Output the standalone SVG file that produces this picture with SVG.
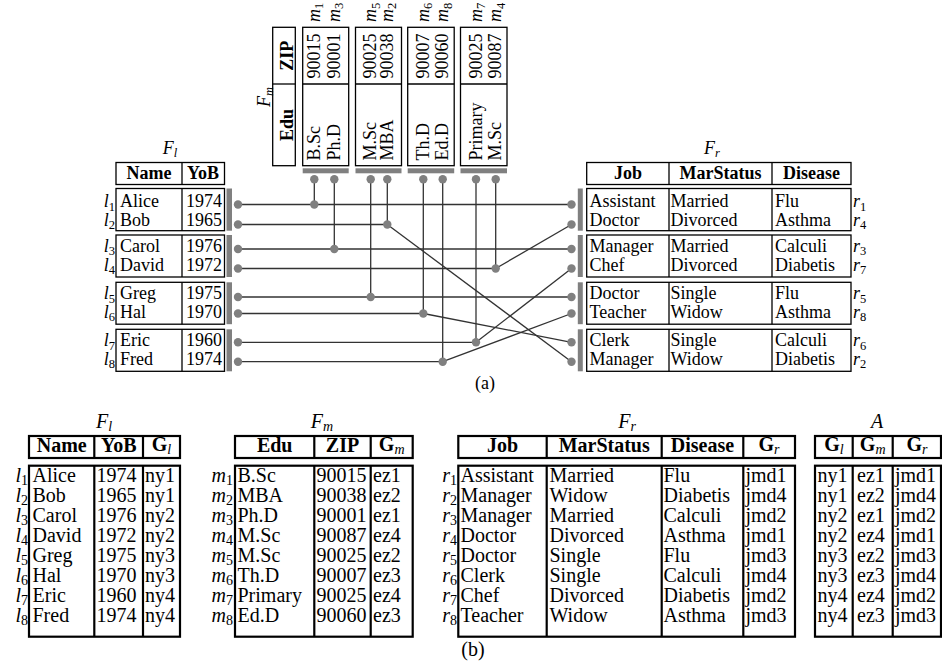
<svg xmlns="http://www.w3.org/2000/svg" width="942" height="665" viewBox="0 0 942 665">
<style>
text{font-family:"Liberation Serif","DejaVu Serif",serif;fill:#000}
.a{font-size:18px}
.b{font-size:20px}
.h{font-weight:bold}
.i{font-style:italic}
.sa{font-size:12.5px}
.sb{font-size:14px}
.m{text-anchor:middle}
.e{text-anchor:end}
.box{fill:none;stroke:#000;stroke-width:1.3}
.tb{fill:none;stroke:#000;stroke-width:2.2}
.bar{fill:#808080}
.dot{fill:#808080}
.ln{stroke:#333;stroke-width:1.3;fill:none}
</style>
<rect width="942" height="665" fill="#fff"/>

<!-- ============ (a) ============ -->
<g id="Fl_a" class="a">
  <text class="i m" x="170" y="154">F<tspan class="sa" dy="3">l</tspan></text>
  <rect class="box" x="116" y="162.5" width="108.5" height="22"/>
  <line class="box" x1="182" y1="162.5" x2="182" y2="184.5"/>
  <text class="h m" x="149" y="179">Name</text>
  <text class="h m" x="203" y="179">YoB</text>
  <g id="Fl_a_g1">
    <rect class="box" x="116" y="188.5" width="108.5" height="42.2"/>
    <line class="box" x1="182" y1="188.5" x2="182" y2="230.7"/>
    <rect class="bar" x="226.5" y="188.5" width="5.5" height="42.2"/>
  </g>
  <g id="Fl_a_g2">
    <rect class="box" x="116" y="235" width="108.5" height="42"/>
    <line class="box" x1="182" y1="235" x2="182" y2="277"/>
    <rect class="bar" x="226.5" y="235" width="5.5" height="42"/>
  </g>
  <g id="Fl_a_g3">
    <rect class="box" x="116" y="282.3" width="108.5" height="41.9"/>
    <line class="box" x1="182" y1="282.3" x2="182" y2="324.2"/>
    <rect class="bar" x="226.5" y="282.3" width="5.5" height="41.9"/>
  </g>
  <g id="Fl_a_g4">
    <rect class="box" x="116" y="329.3" width="108.5" height="42"/>
    <line class="box" x1="182" y1="329.3" x2="182" y2="371.3"/>
    <rect class="bar" x="226.5" y="329.3" width="5.5" height="42"/>
  </g>
  <text class="e" x="115" y="207"><tspan class="i">l</tspan><tspan class="sa" dy="3.5">1</tspan></text>
  <text class="e" x="115" y="225.5"><tspan class="i">l</tspan><tspan class="sa" dy="3.5">2</tspan></text>
  <text class="e" x="115" y="251.5"><tspan class="i">l</tspan><tspan class="sa" dy="3.5">3</tspan></text>
  <text class="e" x="115" y="270.5"><tspan class="i">l</tspan><tspan class="sa" dy="3.5">4</tspan></text>
  <text class="e" x="115" y="299"><tspan class="i">l</tspan><tspan class="sa" dy="3.5">5</tspan></text>
  <text class="e" x="115" y="317.5"><tspan class="i">l</tspan><tspan class="sa" dy="3.5">6</tspan></text>
  <text class="e" x="115" y="346"><tspan class="i">l</tspan><tspan class="sa" dy="3.5">7</tspan></text>
  <text class="e" x="115" y="364.5"><tspan class="i">l</tspan><tspan class="sa" dy="3.5">8</tspan></text>
  <text x="120" y="207">Alice</text><text x="186" y="207">1974</text>
  <text x="120" y="225.5">Bob</text><text x="186" y="225.5">1965</text>
  <text x="120" y="251.5">Carol</text><text x="186" y="251.5">1976</text>
  <text x="120" y="270.5">David</text><text x="186" y="270.5">1972</text>
  <text x="120" y="299">Greg</text><text x="186" y="299">1975</text>
  <text x="120" y="317.5">Hal</text><text x="186" y="317.5">1970</text>
  <text x="120" y="346">Eric</text><text x="186" y="346">1960</text>
  <text x="120" y="364.5">Fred</text><text x="186" y="364.5">1974</text>
</g>

<g id="Fm_a" class="a">
  <text class="i m" transform="translate(270,97) rotate(-90)">F<tspan class="sa" dy="3">m</tspan></text>
  <rect class="box" x="272.7" y="27.3" width="22.6" height="138.4"/>
  <line class="box" x1="272.7" y1="84" x2="295.3" y2="84"/>
  <text class="h m" transform="translate(292.5,55.7) rotate(-90)">ZIP</text>
  <text class="h m" transform="translate(292.5,125) rotate(-90)">Edu</text>
  <g id="Fm_a_g1">
    <rect class="box" x="302.7" y="27.3" width="46" height="138.4"/>
    <line class="box" x1="302.7" y1="84" x2="348.7" y2="84"/>
    <rect class="bar" x="302.7" y="168.3" width="46" height="5"/>
    <text transform="translate(319.8,78.5) rotate(-90)">90015</text>
    <text transform="translate(339.8,78.5) rotate(-90)">90001</text>
    <text transform="translate(319.8,160.5) rotate(-90)">B.Sc</text>
    <text transform="translate(339.8,160.5) rotate(-90)">Ph.D</text>
    <text transform="translate(319.8,22) rotate(-90)"><tspan class="i">m</tspan><tspan class="sa" dy="3.5">1</tspan></text>
    <text transform="translate(339.8,22) rotate(-90)"><tspan class="i">m</tspan><tspan class="sa" dy="3.5">3</tspan></text>
  </g>
  <g id="Fm_a_g2">
    <rect class="box" x="355.5" y="27.3" width="46" height="138.4"/>
    <line class="box" x1="355.5" y1="84" x2="401.5" y2="84"/>
    <rect class="bar" x="355.5" y="168.3" width="46" height="5"/>
    <text transform="translate(376.2,78.5) rotate(-90)">90025</text>
    <text transform="translate(392.8,78.5) rotate(-90)">90038</text>
    <text transform="translate(376.2,160.5) rotate(-90)">M.Sc</text>
    <text transform="translate(392.8,160.5) rotate(-90)">MBA</text>
    <text transform="translate(376.2,22) rotate(-90)"><tspan class="i">m</tspan><tspan class="sa" dy="3.5">5</tspan></text>
    <text transform="translate(392.8,22) rotate(-90)"><tspan class="i">m</tspan><tspan class="sa" dy="3.5">2</tspan></text>
  </g>
  <g id="Fm_a_g3">
    <rect class="box" x="407.7" y="27.3" width="46.5" height="138.4"/>
    <line class="box" x1="407.7" y1="84" x2="454.2" y2="84"/>
    <rect class="bar" x="407.7" y="168.3" width="46.5" height="5"/>
    <text transform="translate(428.8,78.5) rotate(-90)">90007</text>
    <text transform="translate(448.2,78.5) rotate(-90)">90060</text>
    <text transform="translate(428.8,160.5) rotate(-90)">Th.D</text>
    <text transform="translate(448.2,160.5) rotate(-90)">Ed.D</text>
    <text transform="translate(428.8,22) rotate(-90)"><tspan class="i">m</tspan><tspan class="sa" dy="3.5">6</tspan></text>
    <text transform="translate(448.2,22) rotate(-90)"><tspan class="i">m</tspan><tspan class="sa" dy="3.5">8</tspan></text>
  </g>
  <g id="Fm_a_g4">
    <rect class="box" x="460.5" y="27.3" width="46.5" height="138.4"/>
    <line class="box" x1="460.5" y1="84" x2="507" y2="84"/>
    <rect class="bar" x="460.5" y="168.3" width="46.5" height="5"/>
    <text transform="translate(481.5,78.5) rotate(-90)">90025</text>
    <text transform="translate(501.2,78.5) rotate(-90)">90087</text>
    <text transform="translate(481.5,160.5) rotate(-90)">Primary</text>
    <text transform="translate(501.2,160.5) rotate(-90)">M.Sc</text>
    <text transform="translate(481.5,22) rotate(-90)"><tspan class="i">m</tspan><tspan class="sa" dy="3.5">7</tspan></text>
    <text transform="translate(501.2,22) rotate(-90)"><tspan class="i">m</tspan><tspan class="sa" dy="3.5">4</tspan></text>
  </g>
</g>

<g id="Fr_a" class="a">
  <text class="i m" x="712" y="154">F<tspan class="sa" dy="3">r</tspan></text>
  <rect class="box" x="586.7" y="162.5" width="264.3" height="22"/>
  <line class="box" x1="669" y1="162.5" x2="669" y2="184.5"/>
  <line class="box" x1="772" y1="162.5" x2="772" y2="184.5"/>
  <text class="h m" x="628" y="179">Job</text>
  <text class="h m" x="720.5" y="179">MarStatus</text>
  <text class="h m" x="811.5" y="179">Disease</text>
  <g id="Fr_a_g1">
    <rect class="box" x="586.7" y="188.5" width="264.3" height="42.2"/>
    <line class="box" x1="669" y1="188.5" x2="669" y2="230.7"/>
    <line class="box" x1="772" y1="188.5" x2="772" y2="230.7"/>
    <rect class="bar" x="577.8" y="188.5" width="5" height="42.2"/>
  </g>
  <g id="Fr_a_g2">
    <rect class="box" x="586.7" y="235" width="264.3" height="42"/>
    <line class="box" x1="669" y1="235" x2="669" y2="277"/>
    <line class="box" x1="772" y1="235" x2="772" y2="277"/>
    <rect class="bar" x="577.8" y="235" width="5" height="42"/>
  </g>
  <g id="Fr_a_g3">
    <rect class="box" x="586.7" y="282.3" width="264.3" height="41.9"/>
    <line class="box" x1="669" y1="282.3" x2="669" y2="324.2"/>
    <line class="box" x1="772" y1="282.3" x2="772" y2="324.2"/>
    <rect class="bar" x="577.8" y="282.3" width="5" height="41.9"/>
  </g>
  <g id="Fr_a_g4">
    <rect class="box" x="586.7" y="329.3" width="264.3" height="42"/>
    <line class="box" x1="669" y1="329.3" x2="669" y2="371.3"/>
    <line class="box" x1="772" y1="329.3" x2="772" y2="371.3"/>
    <rect class="bar" x="577.8" y="329.3" width="5" height="42"/>
  </g>
  <text x="589.5" y="207">Assistant</text><text x="670.5" y="207">Married</text><text x="775" y="207">Flu</text>
  <text x="589.5" y="225.5">Doctor</text><text x="670.5" y="225.5">Divorced</text><text x="775" y="225.5">Asthma</text>
  <text x="589.5" y="251.5">Manager</text><text x="670.5" y="251.5">Married</text><text x="775" y="251.5">Calculi</text>
  <text x="589.5" y="270.5">Chef</text><text x="670.5" y="270.5">Divorced</text><text x="775" y="270.5">Diabetis</text>
  <text x="589.5" y="299">Doctor</text><text x="670.5" y="299">Single</text><text x="775" y="299">Flu</text>
  <text x="589.5" y="317.5">Teacher</text><text x="670.5" y="317.5">Widow</text><text x="775" y="317.5">Asthma</text>
  <text x="589.5" y="346">Clerk</text><text x="670.5" y="346">Single</text><text x="775" y="346">Calculi</text>
  <text x="589.5" y="364.5">Manager</text><text x="670.5" y="364.5">Widow</text><text x="775" y="364.5">Diabetis</text>
  <text x="853" y="207"><tspan class="i">r</tspan><tspan class="sa" dy="3.5">1</tspan></text>
  <text x="853" y="225.5"><tspan class="i">r</tspan><tspan class="sa" dy="3.5">4</tspan></text>
  <text x="853" y="251.5"><tspan class="i">r</tspan><tspan class="sa" dy="3.5">3</tspan></text>
  <text x="853" y="270.5"><tspan class="i">r</tspan><tspan class="sa" dy="3.5">7</tspan></text>
  <text x="853" y="299"><tspan class="i">r</tspan><tspan class="sa" dy="3.5">5</tspan></text>
  <text x="853" y="317.5"><tspan class="i">r</tspan><tspan class="sa" dy="3.5">8</tspan></text>
  <text x="853" y="346"><tspan class="i">r</tspan><tspan class="sa" dy="3.5">6</tspan></text>
  <text x="853" y="364.5"><tspan class="i">r</tspan><tspan class="sa" dy="3.5">2</tspan></text>
</g>

<g id="connectors">
  <line class="ln" x1="238" y1="204.5" x2="571.5" y2="204.5"/>
  <line class="ln" x1="238" y1="224.5" x2="387.3" y2="224.5"/>
  <line class="ln" x1="238" y1="249" x2="571.5" y2="249"/>
  <line class="ln" x1="238" y1="268.5" x2="495.7" y2="268.5"/>
  <line class="ln" x1="238" y1="297" x2="571.5" y2="297"/>
  <line class="ln" x1="238" y1="313.5" x2="423.3" y2="313.5"/>
  <line class="ln" x1="238" y1="342.3" x2="476" y2="342.3"/>
  <line class="ln" x1="238" y1="361.7" x2="442.7" y2="361.7"/>
  <line class="ln" x1="314.3" y1="179.3" x2="314.3" y2="204.5"/>
  <line class="ln" x1="334.3" y1="179.3" x2="334.3" y2="249"/>
  <line class="ln" x1="370.7" y1="179.3" x2="370.7" y2="297"/>
  <line class="ln" x1="387.3" y1="179.3" x2="387.3" y2="224.5"/>
  <line class="ln" x1="423.3" y1="179.3" x2="423.3" y2="313.5"/>
  <line class="ln" x1="442.7" y1="179.3" x2="442.7" y2="361.7"/>
  <line class="ln" x1="476" y1="179.3" x2="476" y2="342.3"/>
  <line class="ln" x1="495.7" y1="179.3" x2="495.7" y2="268.5"/>
  <line class="ln" x1="387.3" y1="224.5" x2="571.5" y2="361.7"/>
  <line class="ln" x1="495.7" y1="268.5" x2="571.5" y2="224.5"/>
  <line class="ln" x1="423.3" y1="313.5" x2="571.5" y2="342.3"/>
  <line class="ln" x1="476" y1="342.3" x2="571.5" y2="268.5"/>
  <line class="ln" x1="442.7" y1="361.7" x2="571.5" y2="313.5"/>
  <circle class="dot" cx="238" cy="204.5" r="4.2"/>
  <circle class="dot" cx="238" cy="224.5" r="4.2"/>
  <circle class="dot" cx="238" cy="249" r="4.2"/>
  <circle class="dot" cx="238" cy="268.5" r="4.2"/>
  <circle class="dot" cx="238" cy="297" r="4.2"/>
  <circle class="dot" cx="238" cy="313.5" r="4.2"/>
  <circle class="dot" cx="238" cy="342.3" r="4.2"/>
  <circle class="dot" cx="238" cy="361.7" r="4.2"/>
  <circle class="dot" cx="571.5" cy="204.5" r="4.2"/>
  <circle class="dot" cx="571.5" cy="224.5" r="4.2"/>
  <circle class="dot" cx="571.5" cy="249" r="4.2"/>
  <circle class="dot" cx="571.5" cy="268.5" r="4.2"/>
  <circle class="dot" cx="571.5" cy="297" r="4.2"/>
  <circle class="dot" cx="571.5" cy="313.5" r="4.2"/>
  <circle class="dot" cx="571.5" cy="342.3" r="4.2"/>
  <circle class="dot" cx="571.5" cy="361.7" r="4.2"/>
  <circle class="dot" cx="314.3" cy="179.3" r="4.2"/>
  <circle class="dot" cx="334.3" cy="179.3" r="4.2"/>
  <circle class="dot" cx="370.7" cy="179.3" r="4.2"/>
  <circle class="dot" cx="387.3" cy="179.3" r="4.2"/>
  <circle class="dot" cx="423.3" cy="179.3" r="4.2"/>
  <circle class="dot" cx="442.7" cy="179.3" r="4.2"/>
  <circle class="dot" cx="476" cy="179.3" r="4.2"/>
  <circle class="dot" cx="495.7" cy="179.3" r="4.2"/>
  <circle class="dot" cx="314.3" cy="204.5" r="4.2"/>
  <circle class="dot" cx="387.3" cy="224.5" r="4.2"/>
  <circle class="dot" cx="334.3" cy="249" r="4.2"/>
  <circle class="dot" cx="495.7" cy="268.5" r="4.2"/>
  <circle class="dot" cx="370.7" cy="297" r="4.2"/>
  <circle class="dot" cx="423.3" cy="313.5" r="4.2"/>
  <circle class="dot" cx="476" cy="342.3" r="4.2"/>
  <circle class="dot" cx="442.7" cy="361.7" r="4.2"/>
</g>

<text class="a m" x="485" y="389">(a)</text>

<!-- ============ (b) ============ -->
<g id="Fl_b" class="b">
  <text class="i m" x="104" y="428">F<tspan class="sb" dy="3">l</tspan></text>
  <rect class="tb" x="29" y="436" width="151" height="22"/>
  <line class="tb" x1="94.3" y1="436" x2="94.3" y2="458"/>
  <line class="tb" x1="143" y1="436" x2="143" y2="458"/>
  <text class="h m" x="61.7" y="452">Name</text>
  <text class="h m" x="118.7" y="452">YoB</text>
  <text class="m" x="161.5" y="451"><tspan class="h">G</tspan><tspan class="i sb" dy="3">l</tspan></text>
  <rect class="tb" x="29" y="465.7" width="151" height="171"/>
  <line class="tb" x1="94.3" y1="465.7" x2="94.3" y2="636.7"/>
  <line class="tb" x1="143" y1="465.7" x2="143" y2="636.7"/>
  <text x="32.5" y="481.5">Alice<tspan x="32.5" dy="20">Bob</tspan><tspan x="32.5" dy="20">Carol</tspan><tspan x="32.5" dy="20">David</tspan><tspan x="32.5" dy="20">Greg</tspan><tspan x="32.5" dy="20">Hal</tspan><tspan x="32.5" dy="20">Eric</tspan><tspan x="32.5" dy="20">Fred</tspan></text>
  <text x="96.5" y="481.5">1974<tspan x="96.5" dy="20">1965</tspan><tspan x="96.5" dy="20">1976</tspan><tspan x="96.5" dy="20">1972</tspan><tspan x="96.5" dy="20">1975</tspan><tspan x="96.5" dy="20">1970</tspan><tspan x="96.5" dy="20">1960</tspan><tspan x="96.5" dy="20">1974</tspan></text>
  <text x="145" y="481.5">ny1<tspan x="145" dy="20">ny1</tspan><tspan x="145" dy="20">ny2</tspan><tspan x="145" dy="20">ny2</tspan><tspan x="145" dy="20">ny3</tspan><tspan x="145" dy="20">ny3</tspan><tspan x="145" dy="20">ny4</tspan><tspan x="145" dy="20">ny4</tspan></text>
  <text class="e" x="28" y="481.5"><tspan class="i">l</tspan><tspan class="sb" dy="3.5">1</tspan></text>
  <text class="e" x="28" y="501.5"><tspan class="i">l</tspan><tspan class="sb" dy="3.5">2</tspan></text>
  <text class="e" x="28" y="521.5"><tspan class="i">l</tspan><tspan class="sb" dy="3.5">3</tspan></text>
  <text class="e" x="28" y="541.5"><tspan class="i">l</tspan><tspan class="sb" dy="3.5">4</tspan></text>
  <text class="e" x="28" y="561.5"><tspan class="i">l</tspan><tspan class="sb" dy="3.5">5</tspan></text>
  <text class="e" x="28" y="581.5"><tspan class="i">l</tspan><tspan class="sb" dy="3.5">6</tspan></text>
  <text class="e" x="28" y="601.5"><tspan class="i">l</tspan><tspan class="sb" dy="3.5">7</tspan></text>
  <text class="e" x="28" y="621.5"><tspan class="i">l</tspan><tspan class="sb" dy="3.5">8</tspan></text>
</g>

<g id="Fm_b" class="b">
  <text class="i m" x="322" y="428">F<tspan class="sb" dy="3">m</tspan></text>
  <rect class="tb" x="235" y="436" width="177.7" height="22"/>
  <line class="tb" x1="314.3" y1="436" x2="314.3" y2="458"/>
  <line class="tb" x1="370.7" y1="436" x2="370.7" y2="458"/>
  <text class="h m" x="274.7" y="452">Edu</text>
  <text class="h m" x="342.5" y="452">ZIP</text>
  <text class="m" x="391.7" y="451"><tspan class="h">G</tspan><tspan class="i sb" dy="3">m</tspan></text>
  <rect class="tb" x="235" y="465.7" width="177.7" height="171"/>
  <line class="tb" x1="314.3" y1="465.7" x2="314.3" y2="636.7"/>
  <line class="tb" x1="370.7" y1="465.7" x2="370.7" y2="636.7"/>
  <text x="237.5" y="481.5">B.Sc<tspan x="237.5" dy="20">MBA</tspan><tspan x="237.5" dy="20">Ph.D</tspan><tspan x="237.5" dy="20">M.Sc</tspan><tspan x="237.5" dy="20">M.Sc</tspan><tspan x="237.5" dy="20">Th.D</tspan><tspan x="237.5" dy="20">Primary</tspan><tspan x="237.5" dy="20">Ed.D</tspan></text>
  <text x="316.5" y="481.5">90015<tspan x="316.5" dy="20">90038</tspan><tspan x="316.5" dy="20">90001</tspan><tspan x="316.5" dy="20">90087</tspan><tspan x="316.5" dy="20">90025</tspan><tspan x="316.5" dy="20">90007</tspan><tspan x="316.5" dy="20">90025</tspan><tspan x="316.5" dy="20">90060</tspan></text>
  <text x="373" y="481.5">ez1<tspan x="373" dy="20">ez2</tspan><tspan x="373" dy="20">ez1</tspan><tspan x="373" dy="20">ez4</tspan><tspan x="373" dy="20">ez2</tspan><tspan x="373" dy="20">ez3</tspan><tspan x="373" dy="20">ez4</tspan><tspan x="373" dy="20">ez3</tspan></text>
  <text class="e" x="233" y="481.5"><tspan class="i">m</tspan><tspan class="sb" dy="3.5">1</tspan></text>
  <text class="e" x="233" y="501.5"><tspan class="i">m</tspan><tspan class="sb" dy="3.5">2</tspan></text>
  <text class="e" x="233" y="521.5"><tspan class="i">m</tspan><tspan class="sb" dy="3.5">3</tspan></text>
  <text class="e" x="233" y="541.5"><tspan class="i">m</tspan><tspan class="sb" dy="3.5">4</tspan></text>
  <text class="e" x="233" y="561.5"><tspan class="i">m</tspan><tspan class="sb" dy="3.5">5</tspan></text>
  <text class="e" x="233" y="581.5"><tspan class="i">m</tspan><tspan class="sb" dy="3.5">6</tspan></text>
  <text class="e" x="233" y="601.5"><tspan class="i">m</tspan><tspan class="sb" dy="3.5">7</tspan></text>
  <text class="e" x="233" y="621.5"><tspan class="i">m</tspan><tspan class="sb" dy="3.5">8</tspan></text>
</g>

<g id="Fr_b" class="b">
  <text class="i m" x="627" y="428">F<tspan class="sb" dy="3">r</tspan></text>
  <rect class="tb" x="458.3" y="436" width="336.7" height="22"/>
  <line class="tb" x1="546.7" y1="436" x2="546.7" y2="458"/>
  <line class="tb" x1="661.7" y1="436" x2="661.7" y2="458"/>
  <line class="tb" x1="743.3" y1="436" x2="743.3" y2="458"/>
  <text class="h m" x="502.5" y="452">Job</text>
  <text class="h m" x="604.2" y="452">MarStatus</text>
  <text class="h m" x="702.5" y="452">Disease</text>
  <text class="m" x="769" y="451"><tspan class="h">G</tspan><tspan class="i sb" dy="3">r</tspan></text>
  <rect class="tb" x="458.3" y="465.7" width="336.7" height="171"/>
  <line class="tb" x1="546.7" y1="465.7" x2="546.7" y2="636.7"/>
  <line class="tb" x1="661.7" y1="465.7" x2="661.7" y2="636.7"/>
  <line class="tb" x1="743.3" y1="465.7" x2="743.3" y2="636.7"/>
  <text x="460.5" y="481.5">Assistant<tspan x="460.5" dy="20">Manager</tspan><tspan x="460.5" dy="20">Manager</tspan><tspan x="460.5" dy="20">Doctor</tspan><tspan x="460.5" dy="20">Doctor</tspan><tspan x="460.5" dy="20">Clerk</tspan><tspan x="460.5" dy="20">Chef</tspan><tspan x="460.5" dy="20">Teacher</tspan></text>
  <text x="549.5" y="481.5">Married<tspan x="549.5" dy="20">Widow</tspan><tspan x="549.5" dy="20">Married</tspan><tspan x="549.5" dy="20">Divorced</tspan><tspan x="549.5" dy="20">Single</tspan><tspan x="549.5" dy="20">Single</tspan><tspan x="549.5" dy="20">Divorced</tspan><tspan x="549.5" dy="20">Widow</tspan></text>
  <text x="663.5" y="481.5">Flu<tspan x="663.5" dy="20">Diabetis</tspan><tspan x="663.5" dy="20">Calculi</tspan><tspan x="663.5" dy="20">Asthma</tspan><tspan x="663.5" dy="20">Flu</tspan><tspan x="663.5" dy="20">Calculi</tspan><tspan x="663.5" dy="20">Diabetis</tspan><tspan x="663.5" dy="20">Asthma</tspan></text>
  <text x="745.5" y="481.5">jmd1<tspan x="745.5" dy="20">jmd4</tspan><tspan x="745.5" dy="20">jmd2</tspan><tspan x="745.5" dy="20">jmd1</tspan><tspan x="745.5" dy="20">jmd3</tspan><tspan x="745.5" dy="20">jmd4</tspan><tspan x="745.5" dy="20">jmd2</tspan><tspan x="745.5" dy="20">jmd3</tspan></text>
  <text class="e" x="457" y="481.5"><tspan class="i">r</tspan><tspan class="sb" dy="3.5">1</tspan></text>
  <text class="e" x="457" y="501.5"><tspan class="i">r</tspan><tspan class="sb" dy="3.5">2</tspan></text>
  <text class="e" x="457" y="521.5"><tspan class="i">r</tspan><tspan class="sb" dy="3.5">3</tspan></text>
  <text class="e" x="457" y="541.5"><tspan class="i">r</tspan><tspan class="sb" dy="3.5">4</tspan></text>
  <text class="e" x="457" y="561.5"><tspan class="i">r</tspan><tspan class="sb" dy="3.5">5</tspan></text>
  <text class="e" x="457" y="581.5"><tspan class="i">r</tspan><tspan class="sb" dy="3.5">6</tspan></text>
  <text class="e" x="457" y="601.5"><tspan class="i">r</tspan><tspan class="sb" dy="3.5">7</tspan></text>
  <text class="e" x="457" y="621.5"><tspan class="i">r</tspan><tspan class="sb" dy="3.5">8</tspan></text>
</g>

<g id="A_b" class="b">
  <text class="i m" x="877" y="428">A</text>
  <rect class="tb" x="815" y="436" width="126" height="22"/>
  <line class="tb" x1="852.7" y1="436" x2="852.7" y2="458"/>
  <line class="tb" x1="892.7" y1="436" x2="892.7" y2="458"/>
  <text class="m" x="833.9" y="451"><tspan class="h">G</tspan><tspan class="i sb" dy="3">l</tspan></text>
  <text class="m" x="872.7" y="451"><tspan class="h">G</tspan><tspan class="i sb" dy="3">m</tspan></text>
  <text class="m" x="916.9" y="451"><tspan class="h">G</tspan><tspan class="i sb" dy="3">r</tspan></text>
  <rect class="tb" x="815" y="465.7" width="126" height="171"/>
  <line class="tb" x1="852.7" y1="465.7" x2="852.7" y2="636.7"/>
  <line class="tb" x1="892.7" y1="465.7" x2="892.7" y2="636.7"/>
  <text x="817.5" y="481.5">ny1<tspan x="817.5" dy="20">ny1</tspan><tspan x="817.5" dy="20">ny2</tspan><tspan x="817.5" dy="20">ny2</tspan><tspan x="817.5" dy="20">ny3</tspan><tspan x="817.5" dy="20">ny3</tspan><tspan x="817.5" dy="20">ny4</tspan><tspan x="817.5" dy="20">ny4</tspan></text>
  <text x="857" y="481.5">ez1<tspan x="857" dy="20">ez2</tspan><tspan x="857" dy="20">ez1</tspan><tspan x="857" dy="20">ez4</tspan><tspan x="857" dy="20">ez2</tspan><tspan x="857" dy="20">ez3</tspan><tspan x="857" dy="20">ez4</tspan><tspan x="857" dy="20">ez3</tspan></text>
  <text x="895" y="481.5">jmd1<tspan x="895" dy="20">jmd4</tspan><tspan x="895" dy="20">jmd2</tspan><tspan x="895" dy="20">jmd1</tspan><tspan x="895" dy="20">jmd3</tspan><tspan x="895" dy="20">jmd4</tspan><tspan x="895" dy="20">jmd2</tspan><tspan x="895" dy="20">jmd3</tspan></text>
</g>

<text class="b m" x="473" y="656">(b)</text>
</svg>
